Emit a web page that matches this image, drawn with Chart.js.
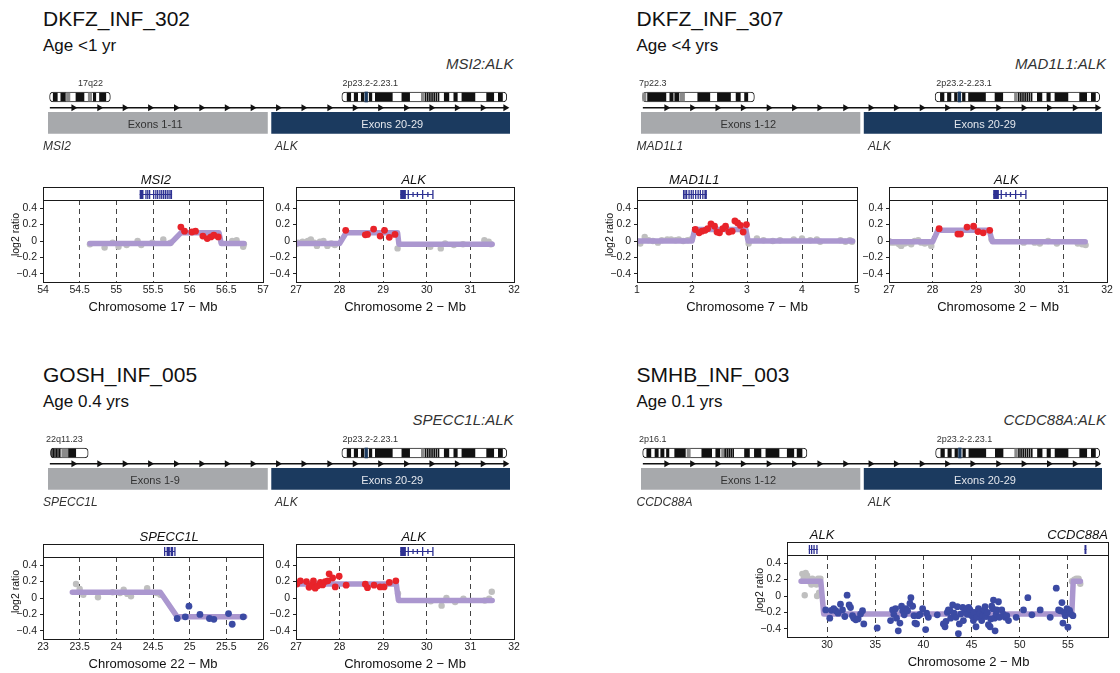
<!DOCTYPE html>
<html><head><meta charset="utf-8">
<script src="https://cdn.jsdelivr.net/npm/chart.js@4.4.1/dist/chart.umd.min.js"></script>
<style>
html,body{margin:0;padding:0;background:#fff;}
#fig{position:relative;width:1120px;height:673px;overflow:hidden;font-family:'Liberation Sans',Arial,sans-serif;}
canvas{position:absolute;}
.t{position:absolute;white-space:nowrap;line-height:1;}
</style></head><body><div id="fig"></div>
<script>
// ---------------- DATA ----------------
const panelTitles=['DKFZ_INF_302','DKFZ_INF_307','GOSH_INF_005','SMHB_INF_003'];
const panelAges=['Age <1 yr','Age <4 yrs','Age 0.4 yrs','Age 0.1 yrs'];
const fusionNames=['MSI2:ALK','MAD1L1:ALK','SPECC1L:ALK','CCDC88A:ALK'];
const partnerGenes=['MSI2','MAD1L1','SPECC1L','CCDC88A'];
const partnerExonLabels=['Exons 1-11','Exons 1-12','Exons 1-9','Exons 1-12'];
const alkExonLabel='Exons 20-29';
const partnerBands=['17q22','7p22.3','22q11.23','2p16.1'];
const alkBand='2p23.2-2.23.1';

// schematic tracks (in % of track width)
const exonSpans=[[0,47.5],[48.4,100]];
const partnerIdeoSpans=[[0.34,13.5],[0.36,24.6],[0.53,8.7],[0.36,36]];
const alkIdeoSpans=[[63.6,99.3],[63.8,99.5],[63.6,99.3],[63.9,99.5]];
const transcriptLine=[0.4,99.4];
const arrowHeads=[5.5,11.1,16.6,22.1,27.7,33.2,38.7,44.3,49.8,55.3,60.9,66.4,71.9,77.5,83.0,88.5,94.1,99.0];

// ideogram bands (fraction of ideogram length)
const ideoALKBlack=[[0.032,0.054],[0.075,0.096],[0.118,0.134],[0.166,0.182],[0.203,0.306],[0.364,0.411],[0.505,0.511],[0.518,0.524],[0.531,0.537],[0.544,0.55],[0.557,0.563],[0.57,0.576],[0.583,0.589],[0.621,0.649],[0.679,0.70],[0.728,0.807],[0.878,0.921],[0.949,0.974]];
const ideoALKGray=[[0.482,0.499]];
const ideoALKMark=[[0.14,0.156]];
const ideo17Black=[[0.06,0.127],[0.185,0.26],[0.434,0.566],[0.72,0.76],[0.821,0.925]];
const ideo17Gray=[[0.277,0.335],[0.636,0.694]];
const ideo7Black=[[0.044,0.208],[0.243,0.273],[0.287,0.325],[0.493,0.601],[0.669,0.786],[0.836,0.874],[0.912,0.941]];
const ideo7Gray=[[0.0,0.03],[0.337,0.375]];
const ideo22Black=[[0.03,0.05],[0.07,0.09],[0.11,0.13],[0.15,0.17],[0.19,0.21],[0.23,0.26],[0.48,0.67]];
const ideo22Gray=[[0.3,0.47]];
const ideo2pBlack=[[0.025,0.05],[0.075,0.095],[0.11,0.13],[0.145,0.16],[0.195,0.26],[0.36,0.42],[0.445,0.47],[0.5,0.506],[0.512,0.518],[0.524,0.53],[0.536,0.542],[0.548,0.554],[0.62,0.65],[0.68,0.72],[0.75,0.83],[0.88,0.92],[0.94,0.97]];
const ideo2pGray=[[0.27,0.29],[0.48,0.5]];

// axis ticks
const yTicks=[-0.4,-0.2,0,0.2,0.4];
const xTicksMSI2=[54,54.5,55,55.5,56,56.5,57];
const xTicksALK=[27,28,29,30,31,32];
const xTicksMAD1L1=[1,2,3,4,5];
const xTicksSPECC1L=[23,23.5,24,24.5,25,25.5,26];
const xTicksChr2=[30,35,40,45,50,55];

// gene models [start,end,heightFactor]
const msi2Span=[55.318,55.76];
const msi2Exons=[[55.318,55.37,1],[55.395,55.40,1],[55.42,55.425,1],[55.445,55.45,1],[55.50,55.505,1],[55.53,55.535,1],[55.555,55.56,1],[55.585,55.59,1],[55.61,55.615,1],[55.635,55.64,1],[55.66,55.665,1],[55.685,55.69,1],[55.71,55.715,1],[55.735,55.76,1]];
const alkSpan=[29.39,30.14];
const alkExons=[[29.39,29.52,1],[29.56,29.57,1],[29.67,29.68,0.5],[29.77,29.78,0.5],[29.89,29.905,1],[30.01,30.02,0.5],[30.125,30.14,1]];
const mad1l1Span=[1.836,2.27];
const mad1l1Exons=[[1.836,1.845,1],[1.862,1.87,1],[1.89,1.91,1],[1.935,1.945,1],[1.975,1.99,1],[2.01,2.03,1],[2.055,2.07,1],[2.1,2.115,1],[2.14,2.16,1],[2.185,2.2,1],[2.225,2.27,1]];
const specc1lSpan=[24.65,24.80];
const specc1lExons=[[24.65,24.665,1],[24.685,24.73,1],[24.74,24.775,1],[24.79,24.80,1]];
const alkWideSpan=[28.1,29.06];
const alkWideExons=[[28.1,28.2,1],[28.33,28.43,1],[28.58,28.68,1],[28.88,29.0,1]];
const ccdc88aSpan=[56.72,56.92];
const ccdc88aExons=[[56.72,56.92,1]];

// copy-number data: [Mb, log2 ratio]
const msi2Gray=[[54.64,-0.04],[54.84,-0.08],[54.95,-0.02],[55.03,-0.07],[55.14,-0.05],[55.29,0.0],[55.34,-0.05],[55.49,-0.02],[55.64,0.02],[55.74,-0.02],[56.58,0.0],[56.64,0.01],[56.73,-0.07],[56.74,-0.04]];
const msi2Red=[[55.88,0.17],[55.93,0.12],[56.03,0.11],[56.08,0.12],[56.18,0.06],[56.24,0.03],[56.29,0.05],[56.33,0.07],[56.39,0.05]];
const msi2Seg=[[54.64,-0.03],[55.74,-0.03],[55.88,0.10],[56.40,0.10],[56.43,-0.03],[56.74,-0.03]];

const alk302Gray=[[27.0,-0.04],[27.05,-0.02],[27.15,-0.01],[27.27,0.0],[27.34,0.02],[27.42,-0.02],[27.48,-0.06],[27.55,-0.01],[27.63,0.0],[27.72,-0.06],[27.81,-0.03],[27.89,-0.05],[29.33,-0.09],[30.08,-0.07],[30.32,-0.09],[30.42,-0.03],[30.62,-0.05],[30.83,-0.04],[31.32,0.01],[31.42,-0.01],[31.47,-0.04]];
const alk302Red=[[28.14,0.13],[28.59,0.075],[28.64,0.08],[28.78,0.145],[28.93,0.06],[29.03,0.13],[29.14,0.045],[29.27,0.08]];
const alk302Seg=[[27.0,-0.03],[28.0,-0.03],[28.15,0.10],[29.33,0.10],[29.36,-0.04],[31.5,-0.04]];

const mad1l1Gray=[[1.01,-0.01],[1.06,-0.03],[1.14,0.05],[1.21,0.01],[1.29,0.0],[1.38,-0.02],[1.45,0.01],[1.55,0.02],[1.62,0.02],[1.70,0.01],[1.76,0.02],[1.84,0.0],[1.92,0.01],[1.98,0.02],[3.03,-0.03],[3.18,0.03],[3.30,0.01],[3.47,0.0],[3.6,0.01],[3.85,0.02],[4.0,0.03],[4.15,0.01],[4.27,0.02],[4.33,-0.01],[4.7,0.01],[4.79,-0.01],[4.87,0.01],[4.91,-0.01]];
const mad1l1Red=[[2.06,0.14],[2.13,0.10],[2.18,0.12],[2.24,0.13],[2.285,0.15],[2.345,0.21],[2.41,0.18],[2.455,0.11],[2.50,0.10],[2.56,0.15],[2.61,0.18],[2.67,0.11],[2.73,0.12],[2.78,0.245],[2.83,0.22],[2.88,0.19],[2.93,0.11],[2.99,0.20]];
const mad1l1Seg=[[1.0,0.0],[2.0,0.0],[2.05,0.14],[2.98,0.14],[3.02,0.0],[4.92,0.0]];

const alk307Gray=[[27.0,0.0],[27.05,-0.02],[27.13,-0.02],[27.23,-0.04],[27.28,-0.06],[27.36,-0.03],[27.44,-0.02],[27.51,-0.04],[27.59,0.0],[27.67,0.01],[27.74,-0.02],[27.82,-0.03],[27.89,-0.02],[27.97,-0.06],[29.35,0.02],[30.09,-0.02],[30.34,-0.02],[30.46,-0.03],[30.65,0.0],[30.85,-0.03],[31.33,-0.03],[31.43,-0.04],[31.51,-0.05]];
const alk307Red=[[28.15,0.15],[28.58,0.085],[28.64,0.085],[28.79,0.17],[28.94,0.18],[29.04,0.115],[29.16,0.10],[29.31,0.13]];
const alk307Seg=[[27.0,-0.01],[28.0,-0.01],[28.12,0.13],[29.3,0.13],[29.37,-0.01],[31.5,-0.01]];

const specc1lGray=[[23.45,0.17],[23.5,0.11],[23.55,0.04],[23.75,0.01],[23.95,0.07],[24.05,0.06],[24.1,0.1],[24.15,0.05],[24.2,0.02],[24.42,0.12],[24.55,0.06],[24.6,0.04]];
const specc1lBlue=[[24.83,-0.25],[24.94,-0.23],[24.99,-0.1],[25.14,-0.2],[25.27,-0.25],[25.33,-0.26],[25.53,-0.19],[25.58,-0.32],[25.73,-0.23]];
const specc1lSeg=[[23.4,0.07],[24.6,0.07],[24.83,-0.23],[25.75,-0.23]];

const alk005Red=[[27.02,0.17],[27.1,0.21],[27.24,0.2],[27.3,0.13],[27.37,0.16],[27.4,0.21],[27.44,0.12],[27.5,0.15],[27.56,0.19],[27.61,0.16],[27.67,0.2],[27.73,0.21],[27.76,0.295],[27.84,0.244],[27.9,0.135],[27.99,0.265],[28.15,0.156],[28.59,0.168],[28.64,0.126],[28.79,0.156],[28.93,0.135],[29.02,0.135],[29.14,0.19],[29.29,0.21]];
const alk005Gray=[[29.34,0.055],[30.09,-0.04],[30.34,-0.093],[30.45,0.0],[30.65,-0.05],[30.84,-0.008],[31.33,-0.03],[31.43,-0.008],[31.49,0.076]];
const alk005Seg=[[27.0,0.17],[29.3,0.17],[29.35,-0.03],[31.5,-0.03]];

const chr2GrayLeft=[[27.43,0.27],[27.57,0.21],[27.68,0.01],[27.78,0.28],[27.92,0.25],[28.13,0.18],[28.27,0.2],[28.37,0.14],[28.47,0.21],[28.72,0.18],[28.89,0.14],[28.96,0.0],[29.06,0.21],[29.17,0.04],[29.31,0.21]];
const chr2GrayRight=[[55.42,0.18],[55.66,0.2],[55.87,0.21],[56.11,0.21],[56.28,0.15]];
const chr2Blue=[[29.86,-0.17],[30.28,-0.27],[30.45,-0.175],[30.69,-0.155],[30.9,-0.18],[31.14,-0.21],[31.39,-0.1],[31.6,-0.17],[31.84,-0.25],[32.08,0.01],[32.29,-0.11],[32.43,-0.14],[32.64,-0.24],[32.77,-0.27],[32.98,-0.29],[33.22,-0.28],[33.47,-0.22],[33.68,-0.18],[33.81,-0.34],[35.2,-0.39],[36.59,-0.3],[36.8,-0.17],[36.93,-0.225],[37.11,-0.155],[37.21,-0.27],[37.39,-0.425],[37.56,-0.33],[37.73,-0.125],[37.84,-0.18],[38.01,-0.23],[38.18,-0.155],[38.36,-0.18],[38.6,-0.09],[38.7,-0.02],[38.88,-0.125],[39.02,-0.24],[39.12,-0.33],[39.29,-0.34],[39.47,-0.24],[39.64,-0.225],[39.92,-0.155],[40.23,-0.41],[40.33,-0.21],[40.51,-0.26],[41.44,-0.23],[42.07,-0.34],[42.24,-0.375],[42.34,-0.31],[42.48,-0.2],[42.59,-0.17],[42.76,-0.18],[42.83,-0.27],[43.04,-0.11],[43.18,-0.21],[43.38,-0.26],[43.52,-0.13],[43.63,-0.46],[43.73,-0.34],[43.87,-0.22],[44.08,-0.14],[44.15,-0.3],[44.32,-0.175],[44.49,-0.155],[44.56,-0.225],[44.7,-0.14],[44.84,-0.17],[45.01,-0.24],[45.19,-0.3],[45.26,-0.2],[45.46,-0.375],[45.53,-0.26],[45.71,-0.155],[45.88,-0.21],[46.05,-0.3],[46.16,-0.24],[46.3,-0.17],[46.4,-0.13],[46.5,-0.25],[46.64,-0.2],[46.75,-0.35],[46.92,-0.375],[46.99,-0.28],[47.09,-0.125],[47.2,-0.155],[47.27,-0.05],[47.37,-0.27],[47.44,-0.425],[47.55,-0.22],[47.61,-0.17],[47.79,-0.07],[47.89,-0.26],[48.13,-0.17],[48.31,-0.225],[48.48,-0.26],[48.65,-0.24],[48.83,-0.3],[49.63,-0.26],[50.39,-0.17],[50.84,-0.02],[51.26,-0.23],[52.12,-0.17],[53.16,-0.26],[53.79,0.095],[54.03,-0.17],[54.2,-0.18],[54.38,-0.08],[54.48,-0.33],[54.62,-0.2],[54.72,-0.24],[54.9,-0.155],[55.0,-0.38],[55.17,-0.175],[55.31,-0.22],[55.52,-0.24]];
const chr2Seg=[[27.3,0.18],[29.35,0.18],[29.65,-0.22],[55.4,-0.22],[55.55,0.18],[56.3,0.18]];

// ---------------- RENDERING ----------------
Chart.defaults.font.family="'Liberation Sans', Arial, sans-serif";
Chart.defaults.color='#222';
const fig=document.getElementById('fig');
const COL={gray:'#bfbfbf',red:'#e8232a',blue:'#3b4aa3',seg:'#ab97cf',navy:'#2e3192',exonGray:'#a7a9ac',exonBlue:'#1b3a5f'};

function txt(s,x,base,size,o={}){
  const d=document.createElement('div');d.className='t';d.textContent=s;
  d.style.fontSize=size+'px';d.style.top=(base-0.8465*size)+'px';
  if(o.align==='right'){d.style.right=(1120-x)+'px';}
  else if(o.align==='center'){d.style.left=x+'px';d.style.transform='translateX(-50%)';}
  else d.style.left=x+'px';
  if(o.italic)d.style.fontStyle='italic';
  d.style.color=o.color||'#111';
  fig.appendChild(d);
}
const xy=a=>a.map(p=>({x:p[0],y:p[1]}));
const fmt=v=>v<0?'\u2212'+Math.abs(v):String(v);

function framePlugin(cfg){
  return {id:'frame',afterDraw(chart){
    const {ctx,chartArea:a,scales:{x}}=chart;
    const L=Math.round(a.left),R=Math.round(a.right),T=Math.round(a.top),B=Math.round(a.bottom),hT=T-13;
    ctx.save();
    ctx.strokeStyle='#1a1a1a';ctx.lineWidth=1;
    ctx.strokeRect(L+0.5,hT+0.5,R-L,B-hT);
    ctx.beginPath();ctx.moveTo(L,T+0.5);ctx.lineTo(R,T+0.5);ctx.stroke();
    ctx.strokeStyle=COL.navy;ctx.fillStyle=COL.navy;
    cfg.genes.forEach(g=>{
      const ym=hT+7;
      ctx.beginPath();ctx.moveTo(x.getPixelForValue(g.span[0]),ym+0.5);ctx.lineTo(x.getPixelForValue(g.span[1]),ym+0.5);ctx.stroke();
      g.exons.forEach(e=>{
        const p1=x.getPixelForValue(e[0]),p2=x.getPixelForValue(e[1]);
        const h=e[2]===1?9:5;
        ctx.fillRect(p1,ym+0.5-h/2,Math.max(1.3,p2-p1),h);
      });
    });
    ctx.fillStyle='#111';ctx.font="italic 13px 'Liberation Sans', Arial";ctx.textBaseline='alphabetic';
    cfg.labels.forEach(l=>{
      ctx.textAlign=l.align;
      ctx.fillText(l.text,l.at==='right'?R:x.getPixelForValue(l.at),hT-3);
    });
    ctx.font="13px 'Liberation Sans', Arial";ctx.textAlign='center';ctx.textBaseline='middle';
    ctx.fillText(cfg.xTitle,(L+R)/2+(cfg.xShift||0),B+25);
    if(cfg.yTitle){
      ctx.save();ctx.translate(L-27,(hT+B)/2);ctx.rotate(-Math.PI/2);
      ctx.font="10.5px 'Liberation Sans', Arial";ctx.fillText('log2 ratio',0,0);ctx.restore();
    }
    ctx.restore();
  }};
}

function makePlot(geo,xRange,xTicks,sets,cfg){
  const padT=44,yw=40,xh=36,padR=14;
  const [L,R,T,B]=geo;
  const c=document.createElement('canvas');
  c.width=R-L+yw+padR;c.height=B-T+padT+xh;
  c.style.left=(L-yw)+'px';c.style.top=(T-padT)+'px';
  fig.appendChild(c);
  const datasets=sets.map(s=>{
    if(s.kind==='seg')return {data:xy(s.pts),showLine:true,borderColor:COL.seg,borderWidth:5.5,borderCapStyle:'round',borderJoinStyle:'round',pointRadius:0,order:1};
    const col=COL[s.kind];
    return {data:xy(s.pts),pointRadius:s.kind==='gray'?3.2:3.4,pointBackgroundColor:col,pointBorderWidth:0,order:s.kind==='gray'?2:0};
  });
  new Chart(c,{type:'scatter',data:{datasets},options:{
    responsive:false,animation:false,devicePixelRatio:1,events:[],
    layout:{padding:{top:padT,right:padR,left:0,bottom:0}},
    plugins:{legend:{display:false},tooltip:{enabled:false}},
    scales:{
      x:{type:'linear',min:xRange[0],max:xRange[1],
        afterBuildTicks:s=>{s.ticks=xTicks.map(v=>({value:v}));},
        afterFit:s=>{s.height=xh;},
        grid:{display:true,drawOnChartArea:true,drawTicks:false,color:'#444',lineWidth:1},
        border:{display:false,dash:[5,4]},
        ticks:{padding:2,font:{size:10.5},color:'#222',maxRotation:0,autoSkip:false,callback:fmt}},
      y:{type:'linear',min:-0.5,max:0.5,
        afterBuildTicks:s=>{s.ticks=yTicks.map(v=>({value:v}));},
        afterFit:s=>{s.width=yw;},
        grid:{display:true,drawOnChartArea:false,drawTicks:true,tickLength:3,color:'#222'},
        border:{display:false},
        ticks:{padding:3,font:{size:10.5},color:'#222',autoSkip:false,callback:fmt}}
    }
  },plugins:[framePlugin(cfg)]});
}

function ideoSets(span,black,gray,mark,lev){
  const m=f=>span[0]+f*(span[1]-span[0]);
  const bars=(arr)=>arr.map(b=>({x:[m(b[0]),m(b[1])],y:lev}));
  const out=[{type:'bar',data:[{x:[span[0],span[1]],y:lev}],backgroundColor:'#fff',borderColor:'#222',borderWidth:1,borderRadius:4,borderSkipped:false,barThickness:10,grouped:false,order:10}];
  out.push({type:'bar',data:bars(gray),backgroundColor:'#8a8a8a',borderWidth:0,barThickness:8,grouped:false,order:9});
  out.push({type:'bar',data:bars(black),backgroundColor:'#111',borderWidth:0,barThickness:8,grouped:false,order:8});
  if(mark)out.push({type:'bar',data:bars(mark),backgroundColor:COL.exonBlue,borderWidth:0,barThickness:10,grouped:false,order:7});
  return out;
}

const trackLevel={ideogram:2.4,transcript:1.4,exons:0};
function makeSchematic(x0,y0,w,pIdeo,i){
  const c=document.createElement('canvas');c.width=w;c.height=62;
  c.style.left=x0+'px';c.style.top=y0+'px';fig.appendChild(c);
  let ds=[
    {type:'bar',data:[{x:exonSpans[0],y:trackLevel.exons}],backgroundColor:COL.exonGray,borderWidth:0,barThickness:21,grouped:false,order:5},
    {type:'bar',data:[{x:exonSpans[1],y:trackLevel.exons}],backgroundColor:COL.exonBlue,borderWidth:0,barThickness:21,grouped:false,order:5},
    {type:'scatter',indexAxis:'x',data:transcriptLine.map(v=>({x:v,y:trackLevel.transcript})),showLine:true,borderColor:'#111',borderWidth:1.5,pointRadius:0,order:3},
    {type:'scatter',indexAxis:'x',data:arrowHeads.map(v=>({x:v,y:trackLevel.transcript})),pointStyle:'triangle',pointRotation:90,pointRadius:4,pointBackgroundColor:'#111',pointBorderWidth:0,clip:false,order:2}
  ];
  ds=ds.concat(ideoSets(partnerIdeoSpans[i],pIdeo[0],pIdeo[1],null,trackLevel.ideogram));
  ds=ds.concat(ideoSets(alkIdeoSpans[i],ideoALKBlack,ideoALKGray,ideoALKMark,trackLevel.ideogram));
  new Chart(c,{type:'bar',data:{datasets:ds},options:{indexAxis:'y',responsive:false,animation:false,devicePixelRatio:1,events:[],
    layout:{padding:0},plugins:{legend:{display:false},tooltip:{enabled:false}},
    scales:{x:{type:'linear',min:0,max:100,display:false,offset:false,grace:0},
            y:{type:'linear',min:-1.778,max:3.232,display:false,offset:false,grace:0,beginAtZero:false}}}});
}

const panelX=[43.5,637,43.5,637],panelY=[0,0,356,356],panelW=[470,469,470,469];
const partnerIdeos=[[ideo17Black,ideo17Gray],[ideo7Black,ideo7Gray],[ideo22Black,ideo22Gray],[ideo2pBlack,ideo2pGray]];
const partnerBandLabelX=[78,639,46,639];
for(let i=0;i<4;i++){
  const X=panelX[i],Y=panelY[i],W=panelW[i];
  txt(panelTitles[i],X-0.5,Y+26,21,{color:'#111'});
  txt(panelAges[i],X-0.5,Y+51,17,{color:'#111'});
  txt(fusionNames[i],X+W,Y+69,15,{italic:true,align:'right',color:'#333'});
  makeSchematic(Math.round(X),84+Y,W,partnerIdeos[i],i);
  txt(partnerBands[i],partnerBandLabelX[i],Y+86.5,9,{color:'#333'});
  txt(alkBand,X+alkIdeoSpans[i][0]/100*W,Y+86.5,9,{color:'#333'});
  txt(partnerExonLabels[i],X+W*(exonSpans[0][0]+exonSpans[0][1])/200,Y+128,11,{align:'center',color:'#333'});
  txt(alkExonLabel,X+W*(exonSpans[1][0]+exonSpans[1][1])/200,Y+128,11,{align:'center',color:'#e3e6ec'});
  txt(partnerGenes[i],X-0.5,Y+150,12,{italic:true,color:'#333'});
  txt('ALK',X+W*exonSpans[1][0]/100+4,Y+150,12,{italic:true,color:'#333'});
}

makePlot([43,263,200,282],[54,57],xTicksMSI2,[{kind:'gray',pts:msi2Gray},{kind:'seg',pts:msi2Seg},{kind:'red',pts:msi2Red}],
  {genes:[{span:msi2Span,exons:msi2Exons}],labels:[{text:'MSI2',at:55.54,align:'center'}],xTitle:'Chromosome 17 \u2212 Mb',yTitle:true});
makePlot([296,514,200,282],[27,32],xTicksALK,[{kind:'gray',pts:alk302Gray},{kind:'seg',pts:alk302Seg},{kind:'red',pts:alk302Red}],
  {genes:[{span:alkSpan,exons:alkExons}],labels:[{text:'ALK',at:29.7,align:'center'}],xTitle:'Chromosome 2 \u2212 Mb',yTitle:false});
makePlot([637,857,200,282],[1,5],xTicksMAD1L1,[{kind:'gray',pts:mad1l1Gray},{kind:'seg',pts:mad1l1Seg},{kind:'red',pts:mad1l1Red}],
  {genes:[{span:mad1l1Span,exons:mad1l1Exons}],labels:[{text:'MAD1L1',at:2.04,align:'center'}],xTitle:'Chromosome 7 \u2212 Mb',yTitle:true});
makePlot([889,1107,200,282],[27,32],xTicksALK,[{kind:'gray',pts:alk307Gray},{kind:'seg',pts:alk307Seg},{kind:'red',pts:alk307Red}],
  {genes:[{span:alkSpan,exons:alkExons}],labels:[{text:'ALK',at:29.69,align:'center'}],xTitle:'Chromosome 2 \u2212 Mb',yTitle:false});
makePlot([43,263,557,639],[23,26],xTicksSPECC1L,[{kind:'gray',pts:specc1lGray},{kind:'seg',pts:specc1lSeg},{kind:'blue',pts:specc1lBlue}],
  {genes:[{span:specc1lSpan,exons:specc1lExons}],labels:[{text:'SPECC1L',at:24.72,align:'center'}],xTitle:'Chromosome 22 \u2212 Mb',yTitle:true});
makePlot([296,514,557,639],[27,32],xTicksALK,[{kind:'gray',pts:alk005Gray},{kind:'seg',pts:alk005Seg},{kind:'red',pts:alk005Red}],
  {genes:[{span:alkSpan,exons:alkExons}],labels:[{text:'ALK',at:29.7,align:'center'}],xTitle:'Chromosome 2 \u2212 Mb',yTitle:false});
makePlot([787,1108,555,637],[25.84,59.16],xTicksChr2,[{kind:'gray',pts:chr2GrayLeft},{kind:'gray',pts:chr2GrayRight},{kind:'seg',pts:chr2Seg},{kind:'blue',pts:chr2Blue}],
  {genes:[{span:alkWideSpan,exons:alkWideExons},{span:ccdc88aSpan,exons:ccdc88aExons}],labels:[{text:'ALK',at:28.2,align:'left'},{text:'CCDC88A',at:'right',align:'right'}],xTitle:'Chromosome 2 \u2212 Mb',xShift:21,yTitle:true});
</script>
</body></html>
